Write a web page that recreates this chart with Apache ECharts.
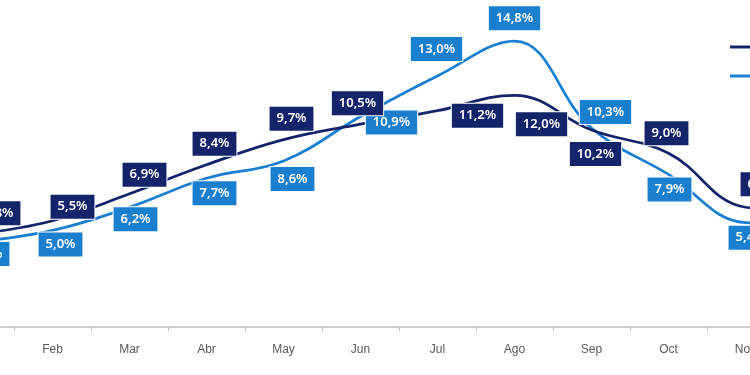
<!DOCTYPE html>
<html>
<head>
<meta charset="utf-8">
<script src="https://cdn.jsdelivr.net/npm/echarts@6/dist/echarts.min.js"></script>
<style>html,body{margin:0;padding:0;background:#fff;overflow:hidden;width:750px;height:375px;position:relative}#c{position:absolute;left:-63px;top:0;width:924px;height:375px}</style>
</head>
<body>
<div id="c"></div>
<script>
var months = ['Ene', 'Feb', 'Mar', 'Abr', 'May', 'Jun', 'Jul', 'Ago', 'Sep', 'Oct', 'Nov', 'Dic'];
var seriesNames = ['2022', '2023'];
var darkValues = [4.8, 5.5, 6.9, 8.4, 9.7, 10.5, 11.2, 12.0, 10.2, 9.0, 6.2, 6.0];
var lightValues = [4.4, 5.0, 6.2, 7.7, 8.6, 10.9, 13.0, 14.8, 10.3, 7.9, 5.4, 5.3];

// label placement (pixel offsets from each point), styling only
var darkOffsets = [[23,-21],[20,-14],[15,-19],[8,-21],[8,-21],[-3,-21],[40,5],[27,29],[4,24],[-2,-20],[17,-23],[0,-20]];
var lightOffsets = [[12,12],[8,14],[6,12],[8,15],[9,18],[31,6],[-1,-27],[0,-23],[14,-16],[1,15],[5,15],[0,15]];

var DARK = '#13246a';
var LIGHT = '#1b7fd0';

function fmt(v) { return v.toFixed(1).replace('.', ',') + '%'; }

function build(values, offsets, color) {
  return values.map(function (v, i) {
    return {
      value: v,
      label: {
        show: true,
        position: 'inside',
        offset: offsets[i],
        formatter: fmt(v),
        backgroundColor: color,
        borderColor: '#ffffff',
        borderWidth: 1,
        color: '#ffffff',
        fontFamily: 'Noto Sans',
        fontWeight: 600,
        fontSize: 13,
        lineHeight: 15,
        padding: [5, 7, 4, 7],
        align: 'center',
        verticalAlign: 'middle'
      }
    };
  });
}

function lineSeries(name, values, color, z) {
  return {
    name: name,
    type: 'line',
    smooth: 0.4,
    symbol: 'none',
    lineStyle: { color: color, width: 2.75 },
    itemStyle: { color: color },
    data: values,
    z: z
  };
}

function labelSeries(name, values, offsets, color) {
  return {
    name: name,
    type: 'line',
    smooth: 0.4,
    symbol: 'circle',
    symbolSize: 0,
    showSymbol: true,
    lineStyle: { width: 0, opacity: 0 },
    itemStyle: { color: color },
    data: build(values, offsets, color),
    z: 10
  };
}

var chart = echarts.init(document.getElementById('c'), null, {renderer: 'canvas'});
chart.setOption({
  animation: false,
  backgroundColor: '#ffffff',
  grid: { left: 0, right: 0, top: 18, bottom: 48, containLabel: false },
  legend: {
    orient: 'vertical',
    left: 788,
    top: 36,
    itemWidth: 25,
    itemHeight: 3,
    itemGap: 17,
    icon: 'rect',
    textStyle: { fontSize: 12, color: '#595959' },
    data: [
      { name: seriesNames[0], itemStyle: { color: DARK } },
      { name: seriesNames[1], itemStyle: { color: LIGHT } }
    ]
  },
  xAxis: {
    type: 'category',
    data: months,
    boundaryGap: true,
    axisLine: { show: true, lineStyle: { color: '#bfbfbf', width: 1.5 } },
    axisTick: { show: true, length: 4, lineStyle: { color: '#bfbfbf' } },
    axisLabel: { color: '#595959', fontSize: 12, margin: 17, fontFamily: 'Liberation Sans' }
  },
  yAxis: {
    type: 'value',
    min: 0,
    max: 16,
    show: false,
    splitLine: { show: false }
  },
  series: [
    lineSeries(seriesNames[1], lightValues, LIGHT, 2),
    lineSeries(seriesNames[0], darkValues, DARK, 3),
    labelSeries('lbl-light', lightValues, lightOffsets, LIGHT),
    labelSeries('lbl-dark', darkValues, darkOffsets, DARK)
  ]
});
</script>
</body>
</html>
